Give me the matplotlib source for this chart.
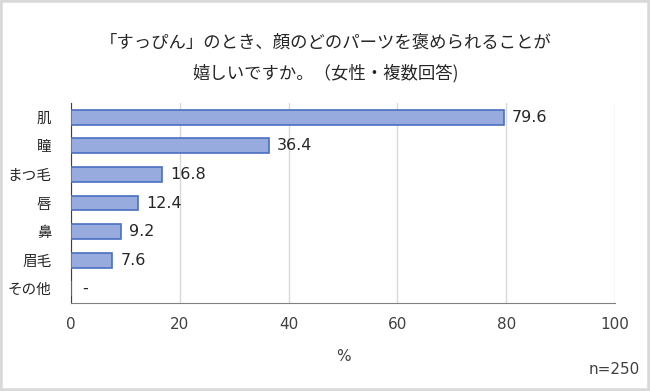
import matplotlib
matplotlib.use("Agg")
import matplotlib.pyplot as plt
from matplotlib.patches import Rectangle

plt.rcParams['font.family'] = ['Noto Sans CJK JP', 'DejaVu Sans']

categories = ["肌", "瞳", "まつ毛", "唇", "鼻", "眉毛", "その他"]
values = [79.6, 36.4, 16.8, 12.4, 9.2, 7.6, 0.0]
value_labels = ["79.6", "36.4", "16.8", "12.4", "9.2", "7.6", "-"]
xticks = [0, 20, 40, 60, 80, 100]
title_text = "「すっぴん」のとき、顔のどのパーツを褒められることが\n嬉しいですか。（女性・複数回答)"
xlabel_text = "%"
note_text = "n=250"

fig = plt.figure(figsize=(6.5, 3.91), dpi=100)
fig.patches.append(Rectangle((0, 0), 1, 1, transform=fig.transFigure,
                             fill=False, edgecolor='#D9D9D9', linewidth=4))

ax = fig.add_axes([71/650, 1-303/391, (615-71)/650, 200/391])
y = list(range(len(categories)))
ax.barh(y, values, height=0.52, color='#97ABDF', edgecolor='#4A6FC2', linewidth=1.2, zorder=3)
for yi, v, lab in zip(y, values, value_labels):
    ax.text(v + 1.5 if v > 0 else 2.0, yi, lab, va='center', ha='left',
            fontsize=11.5, color='#262626', family='DejaVu Sans')

ax.set_xlim(0, 100)
ax.set_ylim(len(categories) - 0.5, -0.5)
ax.set_xticks(xticks)
ax.set_xticklabels([str(t) for t in xticks], fontsize=11, color='#404040', family='DejaVu Sans')
ax.set_yticks(y)
ax.set_yticklabels(categories, fontsize=10.5, color='#262626')
ax.tick_params(axis='both', length=0, pad=10)
ax.tick_params(axis='y', pad=14)
ax.grid(axis='x', color='#D9D9D9', linewidth=1, zorder=0)
for s in ['top', 'right']:
    ax.spines[s].set_visible(False)
ax.spines['left'].set_color('#404040')
ax.spines['bottom'].set_color('#808080')
ax.set_xlabel(xlabel_text, fontsize=11, color='#404040', labelpad=12, family='DejaVu Sans')

fig.text(326/650, 1-58/391, title_text, ha='center', va='center', fontsize=12.5,
         color='#262626', linespacing=1.9)
fig.text(640/650, 1-369/391, note_text, ha='right', va='center', fontsize=11,
         color='#404040', family='DejaVu Sans')

fig.savefig("out.png", dpi=100)
